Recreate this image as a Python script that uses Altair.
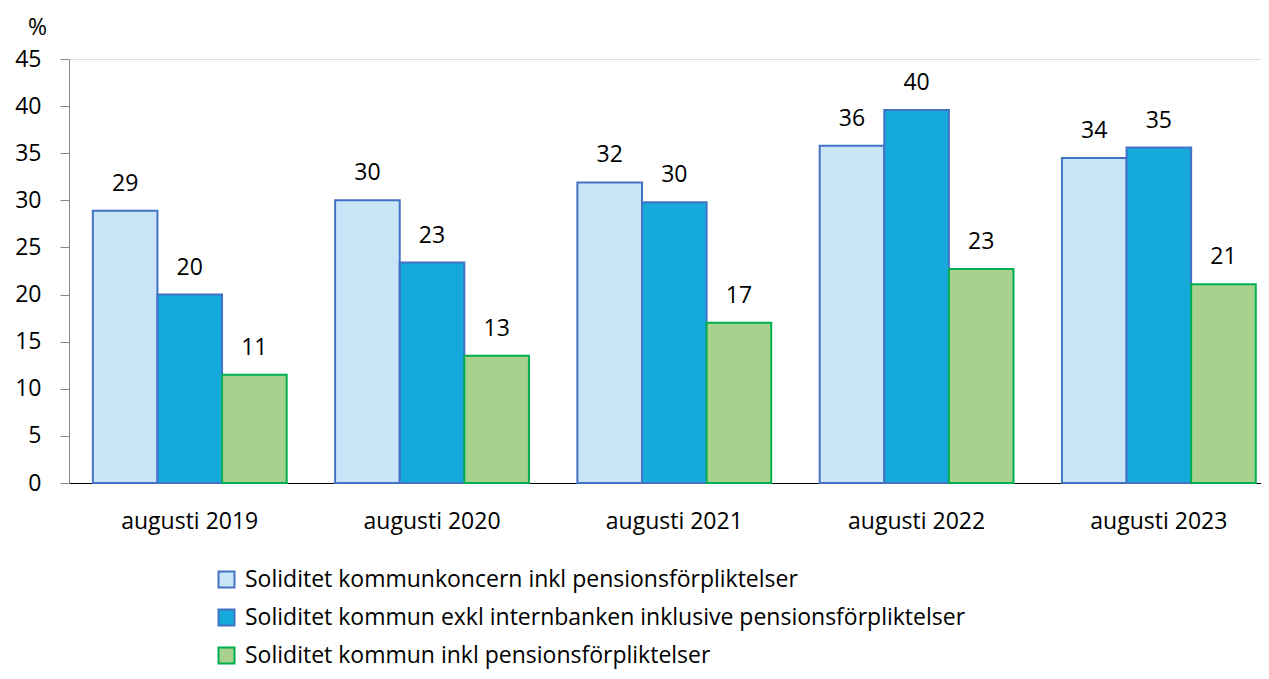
import altair as alt
import pandas as pd

categories = ["augusti 2019", "augusti 2020", "augusti 2021", "augusti 2022", "augusti 2023"]
series = [
    "Soliditet kommunkoncern inkl pensionsförpliktelser",
    "Soliditet kommun exkl internbanken inklusive pensionsförpliktelser",
    "Soliditet kommun inkl pensionsförpliktelser",
]
values_koncern = [28.9, 30.0, 31.9, 35.8, 34.5]
values_exkl = [20.0, 23.4, 29.8, 39.6, 35.6]
values_kommun = [11.5, 13.5, 17.0, 22.7, 21.1]
labels_koncern = ["29", "30", "32", "36", "34"]
labels_exkl = ["20", "23", "30", "40", "35"]
labels_kommun = ["11", "13", "17", "23", "21"]

fills = ["#C9E6F8", "#16A9DB", "#A9D18E"]
strokes = ["#4472C4", "#4472C4", "#00B050"]

rows = []
for s, vals, labs in zip(series, [values_koncern, values_exkl, values_kommun],
                         [labels_koncern, labels_exkl, labels_kommun]):
    for c, v, l in zip(categories, vals, labs):
        rows.append({"kategori": c, "serie": s, "varde": v, "etikett": l})
df = pd.DataFrame(rows)

FONT = "Open Sans"
FS = 23

x = alt.X("kategori:N", sort=categories,
          scale=alt.Scale(paddingInner=0.2, paddingOuter=0.06, align=0.82),
          axis=alt.Axis(title=None, labelAngle=0, ticks=False, domainColor="#000000",
                        domainWidth=1, labelFontSize=FS, labelPadding=27,
                        labelColor="#000000", labelFont=FONT))
xo = alt.XOffset("serie:N", sort=series, scale=alt.Scale(paddingInner=0, paddingOuter=0))
y = alt.Y("varde:Q", scale=alt.Scale(domain=[0, 45]),
          axis=alt.Axis(values=list(range(0, 46, 5)), grid=False, title="%",
                        titleAngle=0, titleX=-32, titleY=-32, titleAlign="center",
                        titleBaseline="middle", titleFontSize=FS, titleFontWeight="normal",
                        titleFont=FONT, titleColor="#000000",
                        tickSize=9, tickColor="#868686", domainColor="#868686",
                        labelPadding=19, labelFontSize=FS, labelFont=FONT,
                        labelColor="#000000"))

legend = alt.Legend(title=None, orient="none", legendX=146, legendY=509,
                    direction="vertical", symbolType="square", symbolSize=256,
                    symbolStrokeWidth=2, labelFontSize=FS, labelFont=FONT,
                    labelColor="#000000", rowPadding=13, labelOffset=7, labelLimit=1000)

bars = alt.Chart(df).mark_bar(strokeWidth=2, strokeOpacity=1, fillOpacity=1).encode(
    x=x, xOffset=xo, y=y,
    fill=alt.Fill("serie:N", sort=series, scale=alt.Scale(domain=series, range=fills),
                  legend=legend),
    stroke=alt.Stroke("serie:N", sort=series, scale=alt.Scale(domain=series, range=strokes),
                      legend=legend),
)

text = alt.Chart(df).mark_text(dy=-20, baseline="alphabetic", fontSize=FS, font=FONT,
                               color="#000000").encode(
    x=alt.X("kategori:N", sort=categories), xOffset=alt.XOffset("serie:N", sort=series),
    y=alt.Y("varde:Q"), text="etikett:N")

chart = alt.layer(bars, text).properties(
    width=1192, height=424,
    autosize=alt.AutoSizeParams(type="none"),
    padding={"left": 61, "top": 51, "right": 0, "bottom": 188},
).configure_view(stroke=None, strokeWidth=0).configure(font=FONT)

chart.save("out.html", embed_options={"renderer": "svg", "actions": False})
